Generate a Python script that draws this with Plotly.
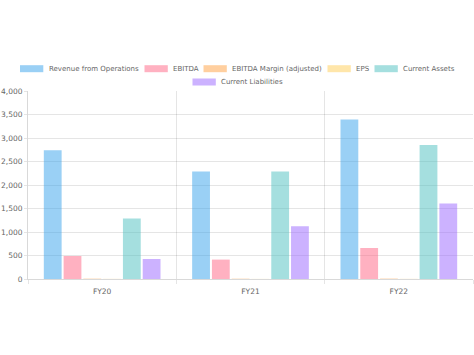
import plotly.graph_objects as go

categories = ["FY20", "FY21", "FY22"]
series_names = ["Revenue from Operations", "EBITDA", "EBITDA Margin (adjusted)", "EPS", "Current Assets", "Current Liabilities"]
revenue = [2738, 2285, 3391]
ebitda = [489, 413, 660]
ebitda_margin = [8, 7, 9]
eps = [3, 2, 3]
current_assets = [1285, 2285, 2851]
current_liabilities = [426, 1121, 1604]
colors = ["rgba(54,162,235,0.5)", "rgba(255,99,132,0.5)", "rgba(255,159,64,0.5)",
          "rgba(255,205,86,0.5)", "rgba(75,192,192,0.5)", "rgba(153,102,255,0.5)"]
y_ticks = [0, 500, 1000, 1500, 2000, 2500, 3000, 3500, 4000]

values = [revenue, ebitda, ebitda_margin, eps, current_assets, current_liabilities]
xpos = list(range(len(categories)))

W, H = 474, 355
ML, MR, MT, MB = 28, 1, 91, 76
PW, PH = W - ML - MR, H - MT - MB

fig = go.Figure()
for name, vals, c in zip(series_names, values, colors):
    fig.add_trace(go.Bar(x=xpos, y=vals, name=name, showlegend=False,
                         marker=dict(color=c, line=dict(width=0))))

# Custom legend laid out like the original (box left x, row centre y in pixels)
legend_layout = [(20, 68.7), (144.5, 68.7), (203.5, 68.7), (327.5, 68.7), (374.5, 68.7), (192.5, 82)]
box_w, box_h = 23.3, 7
def px_x(p):
    return (p - ML) / PW
def px_y(p):
    return (H - MB - p) / PH
shapes = []
annotations = []
for name, c, (bx, cy) in zip(series_names, colors, legend_layout):
    shapes.append(dict(type="rect", xref="paper", yref="paper",
                       x0=px_x(bx), x1=px_x(bx + box_w),
                       y0=px_y(cy + box_h / 2), y1=px_y(cy - box_h / 2),
                       fillcolor=c, line=dict(width=0), layer="above"))
    annotations.append(dict(text=name, xref="paper", yref="paper",
                            x=px_x(bx + box_w + 4.5), y=px_y(cy),
                            xanchor="left", yanchor="middle", showarrow=False,
                            font=dict(size=7, color="#666"), borderpad=0))

font = dict(family="DejaVu Sans, Arial, sans-serif", size=7.5, color="#666")
fig.update_layout(
    width=W, height=H,
    margin=dict(l=ML, r=MR, t=MT, b=MB, pad=0, autoexpand=False),
    paper_bgcolor="white", plot_bgcolor="white",
    barmode="group", bargap=0.2, bargroupgap=0.1,
    font=font, showlegend=False,
    shapes=shapes, annotations=annotations,
)
fig.update_xaxes(
    range=[-0.5, len(categories) - 0.5],
    tickvals=xpos, ticktext=categories, showgrid=False,
    ticks="", tickfont=dict(size=7.5, color="#666"), ticklabelstandoff=5,
    showline=True, linecolor="rgba(0,0,0,0.15)", linewidth=1,
    minor=dict(tick0=0.5, dtick=1, showgrid=True, gridcolor="rgba(0,0,0,0.1)", gridwidth=1,
               ticks="outside", ticklen=4, tickcolor="rgba(0,0,0,0.1)"),
    zeroline=False, mirror=False, automargin=False,
)
fig.update_yaxes(
    range=[0, 4000], tickvals=y_ticks, tickformat=",",
    showgrid=True, gridcolor="rgba(0,0,0,0.1)", gridwidth=1,
    ticks="outside", ticklen=3, tickcolor="rgba(0,0,0,0.1)",
    showline=True, linecolor="rgba(0,0,0,0.15)", linewidth=1,
    zeroline=False, tickfont=dict(size=7.5, color="#666"), automargin=False,
)
fig.write_html("out.html", config={"displayModeBar": False},
               post_script="document.body.style.margin='0';")
